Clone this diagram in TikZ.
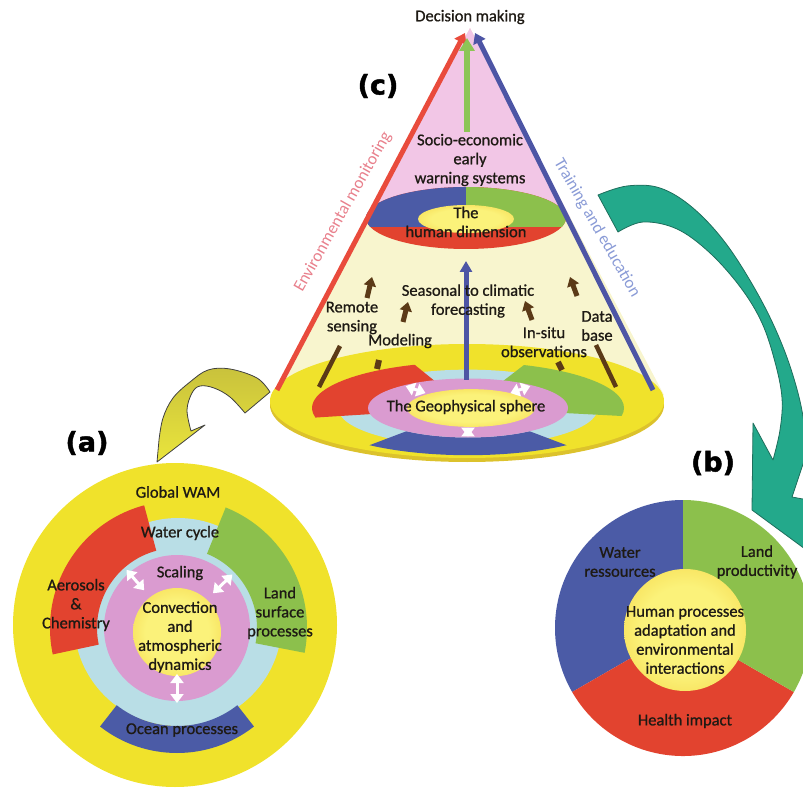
\documentclass[tikz,border=0pt]{standalone}
\usepackage{fontspec}
\setmainfont{Carlito}
\newfontfamily\medfont{Carlito}[FakeBold=0.9]
\newfontfamily\panelfont{DejaVu Sans}[FakeBold=1.6]
\usetikzlibrary{arrows.meta}

\definecolor{wamyellow}{HTML}{F0E22B}
\definecolor{rimyellow}{HTML}{DCC22C}
\definecolor{wamred}{HTML}{E2432F}
\definecolor{wamgreen}{HTML}{8CC04C}
\definecolor{wamblue}{HTML}{4B5BA6}
\definecolor{wamcyan}{HTML}{B9DEE6}
\definecolor{wampink}{HTML}{DA9BD0}
\definecolor{conepale}{HTML}{F8F5CE}
\definecolor{conepink}{HTML}{F2C6E6}
\definecolor{wambrown}{HTML}{5B3A17}
\definecolor{wamteal}{HTML}{23A98B}
\definecolor{tealedge}{HTML}{1E6E5C}
\definecolor{linered}{HTML}{E94B3C}
\definecolor{lineblue}{HTML}{4D55A5}
\definecolor{arrowgreen}{HTML}{8DC556}
\definecolor{envtext}{HTML}{E8808C}
\definecolor{traintext}{HTML}{8A9BD6}
\definecolor{textdark}{HTML}{1E1A14}
\definecolor{coreinner}{HTML}{FBF27A}
\definecolor{coreouter}{HTML}{EFBE1E}
\definecolor{curvetop}{HTML}{C9C23C}
\definecolor{curvebottom}{HTML}{EAE53C}

% radial fill of the yellow cores
\pgfdeclareradialshading{core}{\pgfpoint{0bp}{0bp}}{color(0bp)=(coreinner); color(18bp)=(coreinner); color(50bp)=(coreouter)}

% annular sector and pie slice around the current origin
\newcommand\ringsector[4]{(#1:#4) arc[start angle=#1,end angle=#2,radius=#4] -- (#2:#3) arc[start angle=#2,end angle=#1,radius=#3] -- cycle}
\newcommand\piesector[3]{(0,0) -- (#1:#3) arc[start angle=#1,end angle=#2,radius=#3] -- cycle}

\tikzset{
  lbl/.style={font=\medfont\fontsize{16.5}{19}\selectfont, text=textdark, align=center, inner sep=0pt},
  panel/.style={font=\panelfont\bfseries\fontsize{27}{30}\selectfont, text=black, inner sep=0pt},
  whitearrow/.style={draw=white, line width=3pt, {Triangle[width=13pt,length=9pt]}-{Triangle[width=13pt,length=9pt]}},
  brownbar/.style={draw=wambrown, line width=4.5pt},
  brownarrow/.style={draw=wambrown, line width=5pt, -{Triangle[width=12pt,length=9pt]}},
  blockarrow/.style={draw=black!75, line width=0.8pt, line join=round},
}

\begin{document}
\begin{tikzpicture}[x=1pt,y=1pt]
\useasboundingbox (0,0) rectangle (803,-791);
\clip (0,0) rectangle (803,-791);

% ---------- cone ----------
\fill[conepale] (470,-28) -- (272,-395) -- (664,-395) -- cycle;
\begin{scope}
  \clip (470,-28) -- (272,-395) -- (664,-395) -- cycle;
  \fill[conepink] (250,0) rectangle (700,-218);
\end{scope}

% curved yellow arrow from the base towards panel (a)
\coordinate (ytail) at (258,-402);
\coordinate (ytip) at (157,-462);
\path[blockarrow, top color=curvetop, bottom color=curvebottom]
  plot[smooth, tension=0.6] coordinates {(270,-392) (257,-378) (230,-369) (208,-370) (190,-382) (173,-398) (163,-418) (159,-440)}
  -- (ytip) -- (205,-425) -- (191,-431)
  -- plot[smooth, tension=0.6] coordinates {(191,-431) (187,-410) (192,-393) (200,-386) (214,-388) (230,-397) (245,-413)}
  -- cycle;

% base disc
\fill[rimyellow] (467,-405) ellipse[x radius=197, y radius=57];
\fill[wamyellow] (467,-401) ellipse[x radius=197, y radius=57];
\begin{scope}[shift={(468,-408)}, yscale=0.295]
  \fill[wamcyan] (0,0) circle[radius=130];
  \fill[wamred] \ringsector{110}{192}{98}{156};
  \fill[wamgreen] \ringsector{-10}{69}{98}{156};
  \fill[wamblue] \ringsector{232}{308}{100}{160};
  \fill[wampink] (0,0) circle[radius=100];
  \shade[shading=core] (3,0) circle[radius=64];
  \draw[whitearrow] (130:66) -- (130:97);
  \draw[whitearrow] (50:66) -- (50:97);
  \draw[whitearrow] (270:66) -- (270:97);
\end{scope}

% the human dimension ring
\begin{scope}[shift={(466,-218)}]
  \fill[wamred] (0,0) ellipse[x radius=100, y radius=31];
  \begin{scope}
    \clip (0,0) ellipse[x radius=100, y radius=31];
    \fill[wamblue] (-101,-9) rectangle (0,32);
    \fill[wamgreen] (0,-9) rectangle (101,32);
  \end{scope}
  \shade[shading=core] (0,-1) ellipse[x radius=48, y radius=14];
\end{scope}

% cone edges and the vertical arrows
\coordinate (redfoot) at (277,-390);
\coordinate (redtop) at (465,-33);
\coordinate (bluefoot) at (653,-390);
\coordinate (bluetop) at (475,-33);
\draw[linered, line width=5pt, -{Triangle[width=13pt,length=10pt]}] (redfoot) -- (redtop);
\draw[lineblue, line width=5pt, -{Triangle[width=13pt,length=10pt]}] (bluefoot) -- (bluetop);
\coordinate (greenfoot) at (467,-132);
\coordinate (greentop) at (467,-38);
\draw[arrowgreen, line width=6pt, -{Triangle[width=15pt,length=13pt]}] (greenfoot) -- (greentop);
\coordinate (geofoot) at (466,-380);
\coordinate (geotop) at (466,-261);
\draw[lineblue, line width=5pt, -{Triangle[width=12pt,length=11pt]}] (geofoot) -- (geotop);

% brown links from the observing systems
\coordinate (b1a) at (319,-387); \coordinate (b1b) at (340,-346);
\coordinate (b2a) at (377,-369); \coordinate (b2b) at (379,-360);
\coordinate (b3a) at (562,-370); \coordinate (b3b) at (558,-362);
\coordinate (b4a) at (616,-387); \coordinate (b4b) at (596,-345);
\draw[brownbar] (b1a) -- (b1b);
\draw[brownbar, line width=6pt] (b2a) -- (b2b);
\draw[brownbar, line width=6pt] (b3a) -- (b3b);
\draw[brownbar] (b4a) -- (b4b);
\coordinate (h1a) at (367,-298); \coordinate (h1b) at (372,-277);
\coordinate (h2a) at (403,-322); \coordinate (h2b) at (408,-302);
\coordinate (h3a) at (532,-320); \coordinate (h3b) at (525,-301);
\coordinate (h4a) at (577,-296); \coordinate (h4b) at (570,-277);
\draw[brownarrow] (h1a) -- (h1b);
\draw[brownarrow] (h2a) -- (h2b);
\draw[brownarrow] (h3a) -- (h3b);
\draw[brownarrow] (h4a) -- (h4b);

% cone texts
\node[lbl] (decision) at (470,-17) {Decision making};
\node[panel] (labelc) at (378,-86) {(c)};
\node[lbl] (socio) at (470,-160) {Socio-economic\\early\\warning systems};
\node[lbl] (human) at (466,-222) {The\\human dimension};
\node[lbl] (seasonal) at (468,-301) {Seasonal to climatic\\forecasting};
\node[lbl] (remote) at (352,-318) {Remote\\sensing};
\node[lbl] (modeling) at (400,-341) {Modeling};
\node[lbl] (insitu) at (544,-342) {In-situ\\observations};
\node[lbl] (database) at (597,-326) {Data\\base};
\node[lbl] (geo) at (466,-407) {The Geophysical sphere};
\node[lbl, text=envtext, font=\fontsize{17}{19}\selectfont, rotate=60.5] (envmon) at (343,-212) {Environmental monitoring};
\node[lbl, text=traintext, font=\fontsize{17}{19}\selectfont, rotate=-60] (training) at (597,-228) {Training and education};

% curved teal arrow towards panel (b)
\coordinate (ttip) at (820,-560);
\path[draw=tealedge, line width=0.8pt, fill=wamteal, line join=round]
  plot[smooth, tension=0.6] coordinates {(598,-195) (627,-186) (660,-188) (693,-208) (727,-245) (760,-298) (783,-347) (798,-393) (805,-430) (806,-455)}
  -- (792,-497) -- (835,-505) -- (ttip) -- (752,-510) -- (753,-423) -- (773,-460)
  -- plot[smooth, tension=0.6] coordinates {(773,-460) (780,-430) (782,-398) (775,-362) (762,-323) (741,-288) (710,-253) (677,-229) (643,-222) (618,-232)}
  -- cycle;

% ---------- panel (a) ----------
\begin{scope}[shift={(177,-628)}]
  \fill[wamyellow] (-2,3) circle[radius=162];
  \fill[wamcyan] (1,6) circle[radius=104];
  \fill[wamred] \ringsector{105}{192}{80}{127};
  \fill[wamgreen] \ringsector{-11}{68}{80}{130};
  \fill[wamblue] \ringsector{232}{308}{98}{125};
  \fill[wampink] (0,0) circle[radius=73];
  \shade[shading=core] (0,-4) circle[radius=44];
  \draw[whitearrow] (131:50) -- (131:77);
  \draw[whitearrow] (44:50) -- (44:77);
  \draw[whitearrow] (270:46) -- (270:75);
\end{scope}
\node[panel] (labela) at (87,-443) {(a)};
\node[lbl] (globalwam) at (178,-492) {Global WAM};
\node[lbl] (watercycle) at (180,-533) {Water cycle};
\node[lbl] (scaling) at (180,-573) {Scaling};
\node[lbl] (convection) at (180,-637) {Convection\\and\\atmospheric\\dynamics};
\node[lbl] (aerosols) at (76,-605) {Aerosols\\\&\\Chemistry};
\node[lbl] (landsurface) at (280,-613) {Land\\surface\\processes};
\node[lbl] (ocean) at (182,-730) {Ocean processes};

% ---------- panel (b) ----------
\begin{scope}[shift={(683,-628)}]
  \fill[wamblue] \piesector{90}{210}{128};
  \fill[wamred] \piesector{210}{330}{128};
  \fill[wamgreen] \piesector{-30}{90}{128};
  \shade[shading=core] (2,-2) circle[radius=61];
\end{scope}
\node[panel] (labelb) at (713,-463) {(b)};
\node[lbl] (waterres) at (620,-562) {Water\\ressources};
\node[lbl] (landprod) at (757,-562) {Land\\productivity};
\node[lbl] (humanproc) at (685,-640) {Human processes\\adaptation and\\environmental\\interactions};
\node[lbl] (health) at (685,-721) {Health impact};
\end{tikzpicture}
\end{document}
